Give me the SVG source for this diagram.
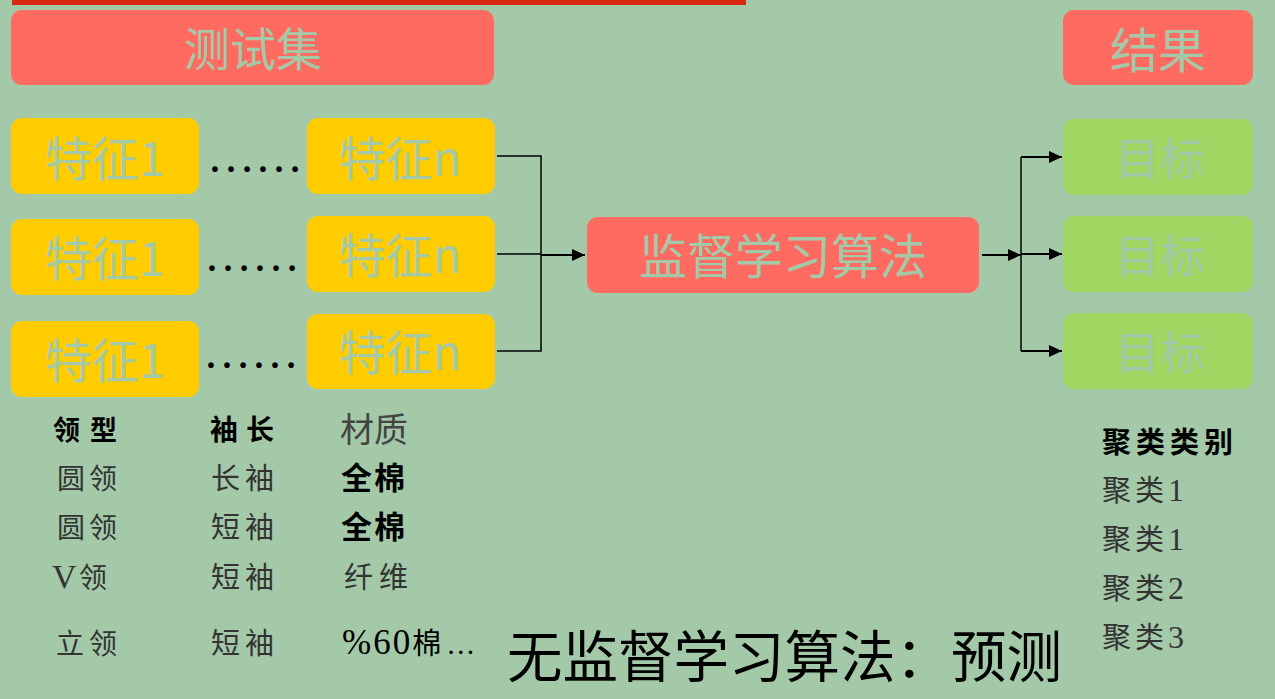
<svg xmlns="http://www.w3.org/2000/svg" width="1275" height="699" viewBox="0 0 1275 699">
<style>
.bg{fill:#a3c9a8}
.red{fill:#ff6a61}
.yel{fill:#ffcc00}
.grn{fill:#a0d662}
.nt{font-family:"Noto Sans CJK SC",sans-serif;fill:#a3c9a8;text-anchor:middle}
.tb{font-family:"Liberation Serif","Noto Sans CJK SC",serif;fill:#333}
.hd{font-weight:700;fill:#000}
.ln{fill:none;stroke:#000;stroke-width:1.5}
.ar{fill:none;stroke:#000;stroke-width:2;marker-end:url(#ah)}
</style>
<defs>
<marker id="ah" markerUnits="userSpaceOnUse" markerWidth="14" markerHeight="12" refX="13" refY="6" orient="auto">
<path d="M0,0 L13,6 L0,12 Z" fill="#000"/>
</marker>
</defs>
<rect class="bg" x="0" y="0" width="1275" height="699"/>
<rect x="12" y="0" width="734" height="5" fill="#d72a10"/>

<g id="testset"><rect class="red" x="11" y="10" width="483" height="75" rx="11"/><text class="nt" x="253" y="66" font-size="46">测试集</text></g>
<g id="result"><rect class="red" x="1063" y="10" width="190" height="75" rx="11"/><text class="nt" x="1158" y="68" font-size="48">结果</text></g>

<g id="f1a"><rect class="yel" x="11" y="118" width="188" height="76" rx="11"/><text class="nt" x="105" y="176" font-size="47">特征1</text></g>
<g id="f1b"><rect class="yel" x="11" y="219" width="188" height="76" rx="11"/><text class="nt" x="105" y="276" font-size="47">特征1</text></g>
<g id="f1c"><rect class="yel" x="11" y="321" width="188" height="76" rx="11"/><text class="nt" x="105" y="378" font-size="47">特征1</text></g>

<g id="fna"><rect class="yel" x="307" y="118" width="188" height="76" rx="11"/><text class="nt" x="400" y="176" font-size="47">特征n</text></g>
<g id="fnb"><rect class="yel" x="307" y="216" width="188" height="76" rx="11"/><text class="nt" x="400" y="273" font-size="47">特征n</text></g>
<g id="fnc"><rect class="yel" x="307" y="314" width="188" height="75" rx="11"/><text class="nt" x="400" y="370" font-size="47">特征n</text></g>

<g id="dots" font-family="Liberation Serif,serif" font-size="48" fill="#000">
<text x="207" y="172">……</text>
<text x="204" y="271">……</text>
<text x="203" y="368">……</text>
</g>

<g id="algo"><rect class="red" x="587" y="217" width="392" height="76" rx="11"/><text class="nt" x="783" y="274" font-size="48">监督学习算法</text></g>

<g id="t1"><rect class="grn" x="1063" y="119" width="190" height="76" rx="11"/><text class="nt" x="1160" y="176" font-size="45">目标</text></g>
<g id="t2"><rect class="grn" x="1063" y="216" width="190" height="76" rx="11"/><text class="nt" x="1160" y="273" font-size="45">目标</text></g>
<g id="t3"><rect class="grn" x="1063" y="313" width="190" height="76" rx="11"/><text class="nt" x="1160" y="370" font-size="45">目标</text></g>

<g id="connectors">
<path class="ln" d="M497,156 H541 V351 H497 M497,254 H541"/>
<path class="ar" d="M541,255 H585"/>
<path class="ar" d="M982,255 H1021"/>
<path class="ln" d="M1021,157 V351"/>
<path class="ar" d="M1021,157 H1062"/>
<path class="ar" d="M1021,254 H1062"/>
<path class="ar" d="M1021,351 H1062"/>
</g>

<g id="table">
<text class="tb hd" x="53" y="440" font-size="27" letter-spacing="10">领型</text>
<text class="tb" x="57" y="489" font-size="28" letter-spacing="4">圆领</text>
<text class="tb" x="57" y="538" font-size="28" letter-spacing="4">圆领</text>
<text class="tb" x="52" y="588"><tspan font-size="34">V</tspan><tspan x="79" font-size="28">领</tspan></text>
<text class="tb" x="56" y="654" font-size="28" letter-spacing="5">立领</text>

<text class="tb hd" x="210" y="440" font-size="28" letter-spacing="8">袖长</text>
<text class="tb" x="211" y="489" font-size="29" letter-spacing="5">长袖</text>
<text class="tb" x="211" y="538" font-size="29" letter-spacing="5">短袖</text>
<text class="tb" x="211" y="588" font-size="29" letter-spacing="5">短袖</text>
<text class="tb" x="211" y="654" font-size="29" letter-spacing="5">短袖</text>

<text class="tb" x="340" y="442" font-size="34" style="fill:#444">材质</text>
<text class="tb hd" x="341" y="489" font-size="31" letter-spacing="2">全棉</text>
<text class="tb hd" x="341" y="538" font-size="31" letter-spacing="2">全棉</text>
<text class="tb" x="344" y="588" font-size="29" letter-spacing="6">纤维</text>
<text class="tb" x="342" y="654" style="fill:#000"><tspan font-size="35" letter-spacing="2">%60</tspan><tspan font-size="29" letter-spacing="5">棉…</tspan></text>
</g>

<g id="clusters">
<text class="tb hd" x="1102" y="453" font-size="29" letter-spacing="5">聚类类别</text>
<text class="tb" x="1102" y="501" font-size="29" letter-spacing="4">聚类<tspan font-size="32">1</tspan></text>
<text class="tb" x="1102" y="550" font-size="29" letter-spacing="4">聚类<tspan font-size="32">1</tspan></text>
<text class="tb" x="1102" y="599" font-size="29" letter-spacing="4">聚类<tspan font-size="32">2</tspan></text>
<text class="tb" x="1102" y="648" font-size="29" letter-spacing="4">聚类<tspan font-size="32">3</tspan></text>
</g>

<text x="507" y="677" font-family="Noto Sans CJK SC,sans-serif" font-size="55.5" fill="#000">无监督学习算法：预测</text>
</svg>
